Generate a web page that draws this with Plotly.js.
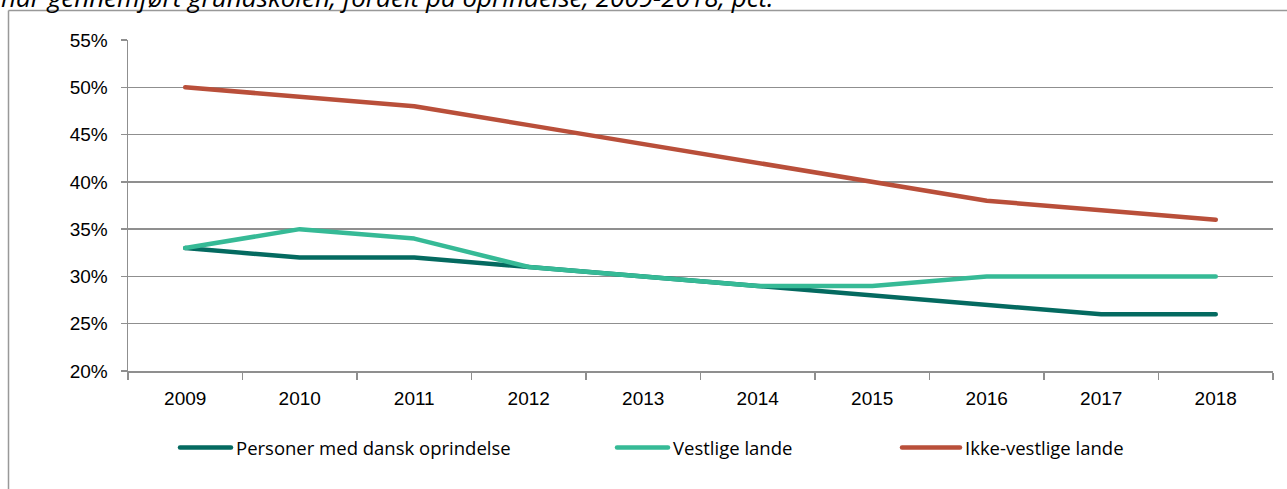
<!DOCTYPE html>
<html>
<head>
<meta charset="utf-8">
<script src="https://cdn.plot.ly/plotly-3.0.1.min.js"></script>
<style>
html,body{margin:0;padding:0;background:#fff;}
#chart{width:1287px;height:489px;}
.scatterlayer .js-line{stroke-linecap:round;stroke-linejoin:round;}
.legendlines path.js-line{stroke-linecap:round;}
</style>
</head>
<body>
<div id="chart"></div>
<script>
const years = ['2009','2010','2011','2012','2013','2014','2015','2016','2017','2018'];
const danskOprindelse = [0.33,0.32,0.32,0.31,0.30,0.29,0.28,0.27,0.26,0.26];
const vestligeLande = [0.33,0.35,0.34,0.31,0.30,0.29,0.29,0.30,0.30,0.30];
const ikkeVestligeLande = [0.50,0.49,0.48,0.46,0.44,0.42,0.40,0.38,0.37,0.36];
const seriesNames = ['Personer med dansk oprindelse','Vestlige lande','Ikke-vestlige lande'];
const titleText = 'har gennemført grundskolen, fordelt på oprindelse, 2009-2018, pct.';

const tickFont = 'Liberation Sans, Arial, sans-serif';
const textFont = 'Open Sans, sans-serif';
const gridCol = '#8f8f8f';

const traces = [
  {x: years, y: danskOprindelse, name: seriesNames[0], type:'scatter', mode:'lines', legend:'legend',
   line:{color:'#046A60', width:4.5}},
  {x: years, y: vestligeLande, name: seriesNames[1], type:'scatter', mode:'lines', legend:'legend2',
   line:{color:'#36BA96', width:4.5}},
  {x: years, y: ikkeVestligeLande, name: seriesNames[2], type:'scatter', mode:'lines', legend:'legend3',
   line:{color:'#B94F3A', width:4.5}}
];

const L = 128, R = 1273, T = 40, B = 371, W = 1287, H = 489;
const px = v => (v - L) / (R - L);
const py = v => (B - v) / (B - T);

function leg(xPix, iw) {
  return {orientation: 'h', x: px(xPix), xanchor: 'left', y: py(448), yanchor: 'middle',
          font: {family: textFont, size: 18.5, color: '#000'}, itemwidth: iw,
          bgcolor: 'rgba(0,0,0,0)', borderwidth: 0};
}

const layout = {
  width: W, height: H,
  margin: {l: L, r: W - R, t: T, b: H - B, pad: 0},
  paper_bgcolor: '#fff', plot_bgcolor: '#fff',
  font: {family: tickFont, size: 19, color: '#000'},
  showlegend: true,
  legend: leg(175, 51),
  legend2: leg(612, 51),
  legend3: leg(897, 58),
  xaxis: {
    type: 'category', range: [-0.5, 9.5], tickson: 'boundaries',
    showline: true, linecolor: gridCol, linewidth: 1.5,
    ticks: 'outside', ticklen: 7, tickcolor: gridCol, tickwidth: 1.5,
    showgrid: false, tickfont: {family: tickFont, size: 19}, ticklabelstandoff: 10, fixedrange: true
  },
  yaxis: {
    range: [0.20, 0.55], dtick: 0.05, tickformat: '.0%',
    showline: true, linecolor: gridCol, linewidth: 1.5,
    ticks: 'outside', ticklen: 6, tickcolor: gridCol, tickwidth: 1.5,
    showgrid: true, gridcolor: gridCol, gridwidth: 1.5, zeroline: false,
    tickfont: {family: tickFont, size: 19}, ticklabelstandoff: 9, fixedrange: true
  },
  shapes: [
    {type:'line', xref:'paper', yref:'paper', x0: px(8.5), x1: px(1295), y0: py(10.5), y1: py(10.5),
     line:{color:'#999', width:1.5}},
    {type:'line', xref:'paper', yref:'paper', x0: px(8.5), x1: px(8.5), y0: py(10.5), y1: py(500),
     line:{color:'#999', width:1.5}}
  ],
  annotations: [
    {text: titleText, xref:'paper', yref:'paper', x: px(-1), y: py(-3), xanchor:'left', yanchor:'middle',
     showarrow:false, font:{family: textFont, size: 26, color:'#000', style:'italic'}}
  ]
};

Plotly.newPlot('chart', traces, layout, {displayModeBar: false, staticPlot: true});
</script>
</body>
</html>
